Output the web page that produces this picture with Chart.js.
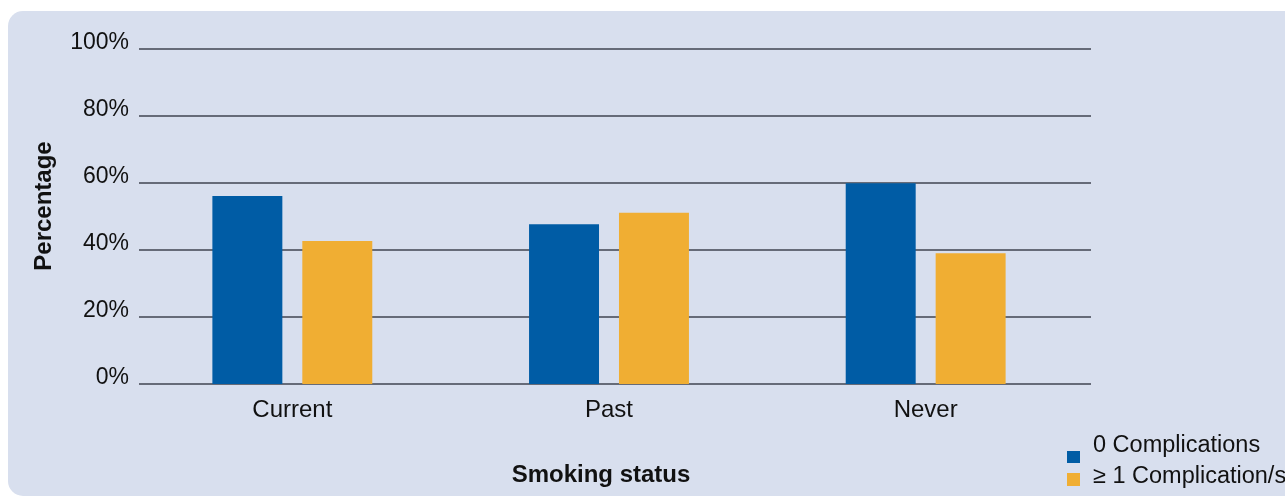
<!DOCTYPE html>
<html>
<head>
<meta charset="utf-8">
<script src="https://cdn.jsdelivr.net/npm/chart.js@4"></script>
<style>
    html, body { margin: 0; padding: 0; background: #ffffff; }
    .wrap { position: relative; width: 1285px; height: 497px; overflow: hidden; }
    .panel { position: absolute; left: 8px; top: 11px; width: 1300px; height: 485px; background: #d8dfee; border-radius: 15px; }
    canvas { position: absolute; left: 0; top: 0; }
</style>
</head>
<body>
<div class="wrap">
    <div class="panel"></div>
    <canvas id="smokingChart" width="1285" height="497"></canvas>
</div>
<script>
const categories = ['Current', 'Past', 'Never'];
const noComplications = [56.1, 47.7, 59.9];
const oneOrMoreComplications = [42.7, 51.1, 39.0];
const yTicks = [0, 20, 40, 60, 80, 100];
const seriesLabels = ['0 Complications', '\u2265 1 Complication/s'];
const xTitle = 'Smoking status';
const yTitle = 'Percentage';

const FONT = '"Liberation Sans", Arial, Helvetica, sans-serif';
const TEXT = '#111111';

// horizontal rules, a bit offset from the bar area like the original
const gridPlugin = {
    id: 'panelGrid',
    beforeDatasetsDraw(chart) {
        const { ctx, chartArea, scales } = chart;
        ctx.save();
        ctx.strokeStyle = '#666b78';
        ctx.lineWidth = 2;
        yTicks.forEach(function(v) {
            const py = Math.round(scales.y.getPixelForValue(v));
            ctx.beginPath();
            ctx.moveTo(chartArea.left + 5, py);
            ctx.lineTo(chartArea.right + 7, py);
            ctx.stroke();
        });
        ctx.restore();
    }
};

// axis titles and the legend in the bottom right corner
const labelsPlugin = {
    id: 'panelLabels',
    afterDraw(chart) {
        const ctx = chart.ctx;
        ctx.save();
        ctx.fillStyle = TEXT;
        ctx.font = 'bold 24px ' + FONT;
        ctx.textAlign = 'center';
        ctx.textBaseline = 'middle';
        ctx.fillText(xTitle, 601, 475);

        ctx.translate(44, 206);
        ctx.rotate(-Math.PI / 2);
        ctx.fillText(yTitle, 0, 0);
        ctx.restore();

        const items = [
            { box: [1067, 451, 13, 12], base: 452 },
            { box: [1067, 473, 13, 13], base: 483 }
        ];
        ctx.save();
        ctx.font = '23.5px ' + FONT;
        ctx.textAlign = 'left';
        ctx.textBaseline = 'alphabetic';
        chart.data.datasets.forEach(function(ds, i) {
            const it = items[i];
            ctx.fillStyle = ds.backgroundColor;
            ctx.fillRect(it.box[0], it.box[1], it.box[2], it.box[3]);
            ctx.fillStyle = TEXT;
            ctx.fillText(ds.label, 1093, it.base);
        });
        ctx.restore();
    }
};

const ctx = document.getElementById('smokingChart').getContext('2d');
const chart = new Chart(ctx, {
    type: 'bar',
    data: {
        labels: categories,
        datasets: [
            {
                label: seriesLabels[0],
                data: noComplications,
                backgroundColor: '#005ca5',
                categoryPercentage: 0.568,
                barPercentage: 0.778
            },
            {
                label: seriesLabels[1],
                data: oneOrMoreComplications,
                backgroundColor: '#f0ae33',
                categoryPercentage: 0.568,
                barPercentage: 0.778
            }
        ]
    },
    options: {
        responsive: false,
        animation: false,
        layout: {
            padding: { top: 49, right: 201, bottom: 0, left: 0 }
        },
        plugins: {
            legend: { display: false },
            tooltip: { enabled: false }
        },
        scales: {
            x: {
                grid: { display: false, drawTicks: false },
                border: { display: false },
                ticks: {
                    color: TEXT,
                    padding: 12,
                    font: { family: FONT, size: 24 }
                },
                afterFit: function(scale) { scale.height = 113; }
            },
            y: {
                min: 0,
                max: 100,
                grid: { display: false, drawTicks: false },
                border: { display: false },
                afterBuildTicks: function(scale) {
                    scale.ticks = yTicks.map(function(v) { return { value: v }; });
                },
                ticks: {
                    color: TEXT,
                    padding: 5,
                    labelOffset: -6,
                    font: { family: FONT, size: 23 },
                    callback: function(v) { return v + '%'; }
                },
                afterFit: function(scale) { scale.width = 134; }
            }
        }
    },
    plugins: [gridPlugin, labelsPlugin]
});
</script>
</body>
</html>
